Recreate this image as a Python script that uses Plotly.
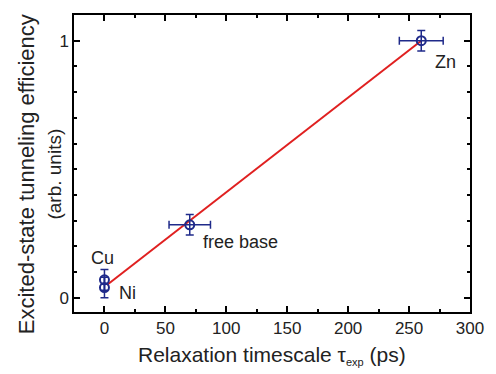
import plotly.graph_objects as go

# Data
names = ["Cu", "Ni", "free base", "Zn"]
tau = [0, 0, 70, 260]
tau_err = [0, 0, 17, 18]
eff = [0.07, 0.04, 0.284, 1.0]
eff_err = [0.04, 0.04, 0.04, 0.04]
fit_x = [2, 260]
fit_y = [0.05, 1.0]

x_ticks = [0, 50, 100, 150, 200, 250, 300]
y_ticks = [0, 1]

navy = "#1f2a8a"
txt = "#222222"
fig = go.Figure()
fig.add_trace(go.Scatter(x=fit_x, y=fit_y, mode="lines",
                         line=dict(color="#e02020", width=2), showlegend=False))
fig.add_trace(go.Scatter(x=tau, y=eff, mode="markers",
                         marker=dict(symbol="circle-open", size=9, color=navy, line=dict(width=2, color=navy)),
                         error_x=dict(type="data", array=tau_err, color=navy, thickness=1.5, width=4),
                         error_y=dict(type="data", array=eff_err, color=navy, thickness=1.5, width=4),
                         showlegend=False))

label_pos = [(-1.6, 0.156, "center"), (10.5, 0.02, "left"), (79.6, 0.218, "left"), (269.5, 0.918, "left")]
for n, (lx, ly, al) in zip(names, label_pos):
    fig.add_annotation(x=lx, y=ly, text=n, showarrow=False, xanchor=al, yanchor="middle",
                       font=dict(size=18, color=txt))

axis_common = dict(showline=True, linecolor="black", linewidth=1.5, mirror="allticks",
                   ticks="inside", ticklen=6, tickwidth=1.5, tickcolor="black",
                   showgrid=False, zeroline=False,
                   tickfont=dict(size=17, color=txt))
fig.update_xaxes(range=[-25, 300], tickvals=x_ticks,
                 minor=dict(dtick=25, ticks="inside", ticklen=3, tickwidth=1.5, tickcolor="black"),
                 **axis_common)
fig.update_yaxes(range=[-0.055, 1.1], tickvals=y_ticks,
                 minor=dict(dtick=0.1, tick0=0, ticks="inside", ticklen=3, tickwidth=1.5, tickcolor="black"),
                 **axis_common)

fig.add_annotation(xref="paper", yref="paper", x=-0.1207, y=0.4646, text="Excited-state tunneling efficiency",
                   textangle=-90, showarrow=False, font=dict(size=22, color=txt), xanchor="center", yanchor="middle")
fig.add_annotation(xref="paper", yref="paper", x=-0.0517, y=0.4646, text="(arb. units)",
                   textangle=-90, showarrow=False, font=dict(size=19, color=txt), xanchor="center", yanchor="middle")
fig.add_annotation(xref="paper", yref="paper", x=0.5, y=-0.1448,
                   text="Relaxation timescale τ<sub><span style='font-size:11px'>exp</span></sub> (ps)",
                   showarrow=False, font=dict(size=21, color=txt), xanchor="center", yanchor="middle")

fig.update_layout(width=496, height=374, margin=dict(l=74, r=16, t=15, b=62),
                  plot_bgcolor="white", paper_bgcolor="white",
                  font=dict(family="Liberation Sans, Arial, sans-serif"))
fig.write_html("out.html")
